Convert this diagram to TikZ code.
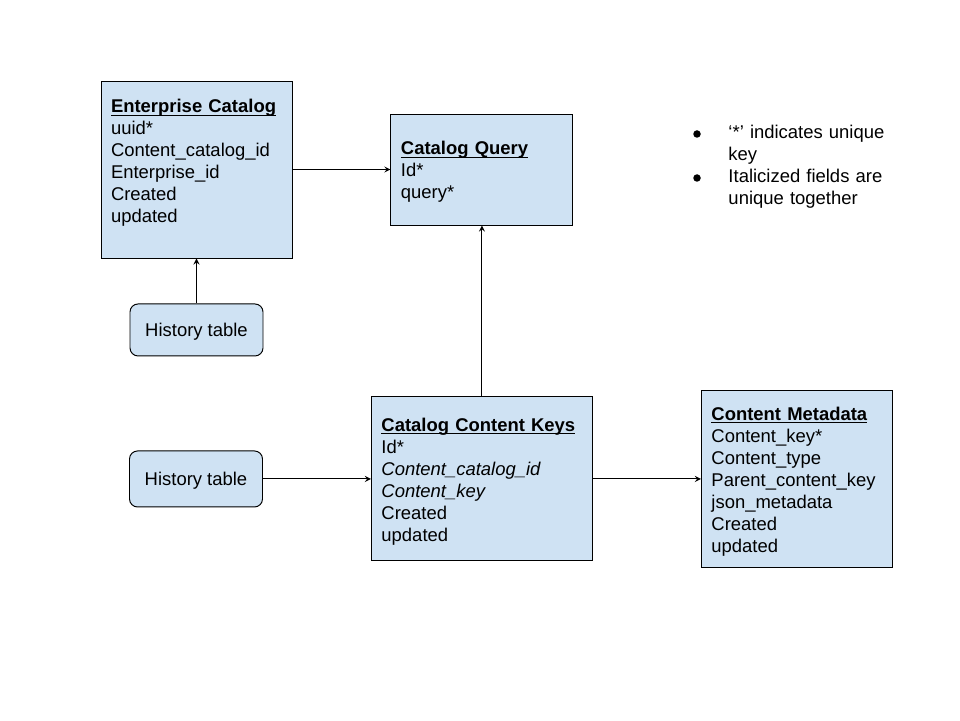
\documentclass[tikz,border=0pt]{standalone}
\usepackage{fontspec}
\setmainfont{Liberation Sans}
\usetikzlibrary{positioning}
\definecolor{tableblue}{HTML}{CFE2F3}
\newcommand*{\TableTitle}[1]{\rule{0pt}{1em}\underline{\smash{\textbf{#1}}}}

\begin{document}
\begin{tikzpicture}[
    font=\fontsize{10.5}{12.5}\selectfont,
    line width=0.55pt,
    entity/.style={draw, fill=tableblue, align=left, inner xsep=0.2cm},
    history/.style={draw, fill=tableblue, rounded corners=0.16cm, minimum width=2.66cm, text depth=0pt}
]
\useasboundingbox (0,0) rectangle (19.2,14.4);

% Enterprise catalog
\node[entity,
    text width=3.42cm,
    minimum height=3.54cm
] (entcatalog) at (3.93,11.01) {\TableTitle{Enterprise Catalog}\\ uuid*\\ Content\_catalog\_id\\ Enterprise\_id\\ Created\\ updated\\ \mbox{}};

% Catalog query
\node[entity,
    text width=3.24cm,
    minimum height=2.22cm,
    right=1.96cm of entcatalog
] (catquery) {\TableTitle{Catalog Query}\\ Id*\\ query*};

% History of the catalog
\node[history,
    minimum height=1.04cm,
    below=0.9cm of entcatalog
] (histcatalog) {History table};

% Catalog content keys
\node[entity,
    text width=4.02cm,
    minimum height=3.28cm,
    below=3.42cm of catquery
] (contentkeys) {\TableTitle{Catalog Content Keys}\\ Id*\\ \textit{Content\_catalog\_id}\\ \textit{Content\_key}\\ Created\\ updated};

% History of the keys
\node[history,
    minimum height=1.12cm,
    left=2.16cm of contentkeys
] (histkeys) {History table};

% Content metadata
\node[entity,
    text width=3.42cm,
    minimum height=3.54cm,
    right=2.16cm of contentkeys
] (metadata) {\TableTitle{Content Metadata}\\ Content\_key*\\ Content\_type\\ Parent\_content\_key\\ json\_metadata\\ Created\\ updated};

% Legend
\node[circle, fill, inner sep=0pt, minimum size=0.15cm] (bulletA) at (13.94,11.72) {};
\node[anchor=base west, inner sep=0pt, text width=3.3cm, align=left] (legendA) at (14.56,11.62) {‘*’ indicates unique key};
\node[circle, fill, inner sep=0pt, minimum size=0.15cm] (bulletB) at (13.94,10.84) {};
\node[anchor=base west, inner sep=0pt, text width=3.3cm, align=left] (legendB) at (14.56,10.74) {Italicized fields are unique together};

% Arrows
\draw[-stealth] (entcatalog.east) -- (catquery.west);
\draw[-stealth] (histcatalog.north) -- (entcatalog.south);
\draw[-stealth] (contentkeys.north) -- (catquery.south);
\draw[-stealth] (histkeys.east) -- (contentkeys.west);
\draw[-stealth] (contentkeys.east) -- (metadata.west);

\end{tikzpicture}
\end{document}
